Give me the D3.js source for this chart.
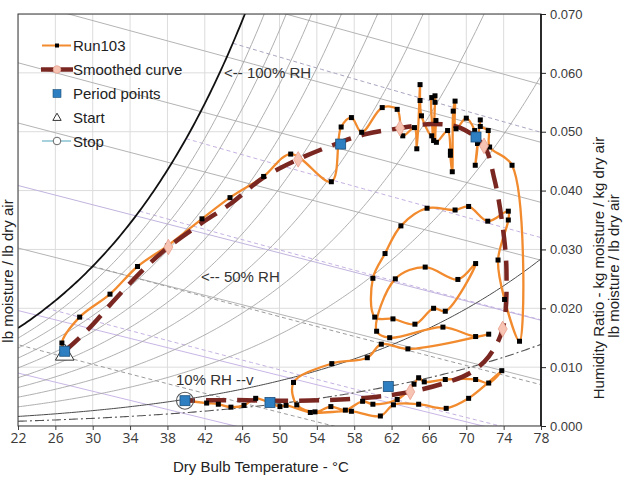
<!DOCTYPE html>
<html>
<head>
<meta charset="utf-8">
<script src="https://cdn.jsdelivr.net/npm/d3@7"></script>
<style>
  body { margin: 0; background: #fff; }
  svg { display: block; font-family: "Liberation Sans", Arial, sans-serif; }
</style>
</head>
<body>
<svg id="chart" width="624" height="477"></svg>
<script>
// Run103 readings: dry bulb (degC) and humidity ratio (kg/kg)
const runTemp = [27.0, 26.7, 28.6, 31.85, 34.8, 38.0, 41.7, 44.7, 48.3, 51.2,
  55.55, 56.6, 57.7, 58.8, 61.0, 62.6, 63.2, 64.45, 64.7, 65.05,
  65.05, 65.2, 66.3, 66.3, 66.65, 66.65, 66.5, 66.75, 66.8, 68.0,
  68.3, 68.3, 68.5, 68.6, 68.8, 68.9, 70.0, 70.9, 71.2, 70.96,
  71.5, 71.5, 72.35, 72.5, 74.9, 75.7, 74.1, 73.4, 74.5, 74.5,
  72.3, 70.25, 68.8, 65.8, 63.0, 61.3, 60.0, 60.2, 62.15, 64.5,
  66.5, 67.75, 71.0, 69.1, 65.6, 62.4, 60.4, 61.8, 67.5, 71.0,
  72.4, 63.75, 60.9, 59.4, 55.6, 51.5, 51.85, 53.8, 55.5, 57.05,
  58.9, 60.0, 62.6, 64.4, 64.9, 65.5, 67.75, 71.0, 72.4, 73.8,
  70.25, 67.85, 64.9, 62.2, 60.8, 57.7, 53.3, 50.7, 50.05, 47.45,
  46.2, 44.8, 43.45, 42.2, 39.9];
const runHum = [0.0127, 0.0141, 0.0185, 0.0224, 0.0271, 0.0306, 0.0352, 0.0388, 0.0424, 0.0462,
  0.0415, 0.0508, 0.0524, 0.0499, 0.0541, 0.0538, 0.0493, 0.0507, 0.0471, 0.0580,
  0.0553, 0.0527, 0.0493, 0.0558, 0.0561, 0.0550, 0.0485, 0.0519, 0.0482, 0.0502,
  0.0467, 0.0460, 0.0432, 0.0535, 0.0552, 0.0505, 0.0523, 0.0502, 0.0480, 0.0443,
  0.0520, 0.0509, 0.0502, 0.0474, 0.0443, 0.0144, 0.0215, 0.0282, 0.0350, 0.0365,
  0.0348, 0.0373, 0.0367, 0.0370, 0.0340, 0.0293, 0.0251, 0.0185, 0.0182, 0.0173,
  0.0200, 0.0195, 0.0276, 0.0249, 0.0270, 0.0250, 0.0161, 0.0150, 0.0168, 0.0152,
  0.0156, 0.0131, 0.0139, 0.0116, 0.0106, 0.0074, 0.0036, 0.0024, 0.0033, 0.0027,
  0.0042, 0.0037, 0.0045, 0.0071, 0.0082, 0.0075, 0.0079, 0.0079, 0.0073, 0.0094,
  0.0047, 0.0030, 0.0037, 0.0036, 0.0017, 0.0025, 0.0023, 0.0035, 0.0033, 0.0047,
  0.0035, 0.0032, 0.0037, 0.0039, 0.0043];

// smoothed curve
const smoothTemp = [27.0, 29.5, 32.5, 35.5, 38.1, 41.5, 44.8, 48.2, 52.0, 55.5,
  59.0, 62.9, 66.3, 69.3, 71.9, 73.0, 73.8, 74.3, 73.9, 72.4,
  70.4, 67.5, 64.0, 60.0, 55.0, 50.0, 45.0, 39.9];
const smoothHum = [0.0127, 0.0164, 0.0217, 0.0267, 0.0304, 0.0343, 0.0378, 0.0421, 0.0453, 0.0476,
  0.0495, 0.0506, 0.0513, 0.0507, 0.0476, 0.0420, 0.0350, 0.0265, 0.0165, 0.0118,
  0.0090, 0.0072, 0.0058, 0.0049, 0.0044, 0.0043, 0.0044, 0.0043];
const smoothMarkIdx = [4, 8, 11, 14, 18, 22];

const periodTemp = [27.0, 56.55, 71.04, 61.65, 48.98, 39.88];
const periodHum = [0.0127, 0.0479, 0.0491, 0.0067, 0.0040, 0.0043];
const startPoint = [27.0, 0.0121];
const stopPoint = [39.88, 0.0043];

const xTicks = [22, 26, 30, 34, 38, 42, 46, 50, 54, 58, 62, 66, 70, 74, 78];
const yTicks = [0, 0.01, 0.02, 0.03, 0.04, 0.05, 0.06, 0.07];

// psychrometric background
const rhLevels = [0.2, 0.3, 0.4, 0.5, 0.6, 0.7, 0.8, 0.9];
const wetBulbLevels = [20, 25, 30, 35, 40, 45];
const wetBulbColors = ['#9a9a9a', '#c4b0e2', '#9a9a9a', '#c4b0e2', '#c4b0e2', '#a9a2bf'];
const enthalpyLevels = [45, 72, 99, 126, 153, 179, 206, 232];
const enthalpyColors = ['#c9b6e6', '#c9b6e6', '#b4b4b4', '#c2b4de', '#b4b4b4', '#b4b4b4', '#b4b4b4', '#b4b4b4'];

class PsychroChart {
    constructor() {
        this.svg = d3.select('#chart');
        this.left = 18; this.right = 541; this.top = 14; this.bottom = 426;
        this.x = d3.scaleLinear().domain([22, 78]).range([this.left, this.right]);
        this.y = d3.scaleLinear().domain([0, 0.07]).range([this.bottom, this.top]);
        this.line = d3.line().x(d => this.x(d[0])).y(d => this.y(d[1]));
        this.smooth = d3.line().x(d => this.x(d[0])).y(d => this.y(d[1])).curve(d3.curveCatmullRom.alpha(0.5));

        this.drawGrid();
        this.drawPsychro();
        this.drawSeries();
        this.drawAxes();
        this.drawLegend();
        this.drawNotes();
    }

    pws(t) { return 0.61094 * Math.exp(17.625 * t / (t + 243.04)); }
    hum(t, rh) { const p = rh * this.pws(t); return 0.622 * p / (101.325 - p); }

    drawGrid() {
        const defs = this.svg.append('defs');
        defs.append('clipPath').attr('id', 'plot-clip').append('rect')
            .attr('x', this.left).attr('y', this.top)
            .attr('width', this.right - this.left).attr('height', this.bottom - this.top);

        this.plot = this.svg.append('g').attr('clip-path', 'url(#plot-clip)');
        this.plot.selectAll('.vgrid').data(xTicks).enter().append('line')
            .attr('x1', d => this.x(d)).attr('x2', d => this.x(d))
            .attr('y1', this.top).attr('y2', this.bottom)
            .attr('stroke', '#dcdcdc').attr('stroke-width', 1);
        this.plot.selectAll('.hgrid').data(yTicks).enter().append('line')
            .attr('x1', this.left).attr('x2', this.right)
            .attr('y1', d => this.y(d)).attr('y2', d => this.y(d))
            .attr('stroke', '#dcdcdc').attr('stroke-width', 1);
    }

    drawPsychro() {
        const temps = d3.range(22, 78.01, 0.25);
        const g = this.plot;

        enthalpyLevels.forEach((h, i) => {
            const pts = [22, 78].map(t => [t, (h - 1.006 * t) / (2501 + 1.86 * t)]);
            g.append('path').attr('d', this.line(pts)).attr('fill', 'none')
                .attr('stroke', enthalpyColors[i]).attr('stroke-width', 1);
        });

        wetBulbLevels.forEach((tw, i) => {
            const ws = this.hum(tw, 1);
            const pts = d3.range(tw, 78.01, 0.5)
                .map(t => [t, ((2501 - 2.326 * tw) * ws - 1.006 * (t - tw)) / (2501 + 1.86 * t - 4.186 * tw)])
                .filter(d => d[1] > -0.002);
            g.append('path').attr('d', this.line(pts)).attr('fill', 'none')
                .attr('stroke', wetBulbColors[i]).attr('stroke-width', 1)
                .attr('stroke-dasharray', '4,3');
        });

        rhLevels.forEach(rh => {
            g.append('path').attr('d', this.line(temps.map(t => [t, this.hum(t, rh)])))
                .attr('fill', 'none').attr('stroke', '#a6a6a6').attr('stroke-width', 0.9);
        });
        // 10% RH
        g.append('path').attr('d', this.line(temps.map(t => [t, this.hum(t, 0.1)])))
            .attr('fill', 'none').attr('stroke', '#4a4a4a').attr('stroke-width', 1);
        // 5% RH dash-dot
        g.append('path').attr('d', this.line(temps.map(t => [t, this.hum(t, 0.05)])))
            .attr('fill', 'none').attr('stroke', '#555').attr('stroke-width', 1.1)
            .attr('stroke-dasharray', '9,3,2,3');
        // saturation
        g.append('path').attr('d', this.line(temps.filter(t => t < 47.5).map(t => [t, this.hum(t, 1)])))
            .attr('fill', 'none').attr('stroke', '#111').attr('stroke-width', 1.8);
    }

    drawSeries() {
        const g = this.plot;
        const run = runTemp.map((t, i) => [t, runHum[i]]);
        const sm = smoothTemp.map((t, i) => [t, smoothHum[i]]);

        g.append('path').attr('d', this.smooth(run)).attr('fill', 'none')
            .attr('stroke', '#f28a2e').attr('stroke-width', 2.3);

        g.append('path').attr('d', this.smooth(sm)).attr('fill', 'none')
            .attr('stroke', '#7a2722').attr('stroke-width', 4.5)
            .attr('stroke-dasharray', '20,11');

        g.selectAll('.run-pt').data(run).enter().append('rect')
            .attr('x', d => this.x(d[0]) - 2.5).attr('y', d => this.y(d[1]) - 2.5)
            .attr('width', 5).attr('height', 5).attr('fill', '#000');

        g.selectAll('.sm-pt').data(smoothMarkIdx.map(i => sm[i])).enter().append('path')
            .attr('transform', d => `translate(${this.x(d[0])},${this.y(d[1])})`)
            .attr('d', d3.symbol(d3.symbolDiamond, 70))
            .attr('fill', '#f7c4b4').attr('stroke', '#e9a08e').attr('stroke-width', 0.8);

        g.append('path')
            .attr('transform', `translate(${this.x(startPoint[0])},${this.y(startPoint[1])})`)
            .attr('d', d3.symbol(d3.symbolTriangle, 150))
            .attr('fill', '#fff').attr('stroke', '#333').attr('stroke-width', 1);

        g.selectAll('.period').data(periodTemp.map((t, i) => [t, periodHum[i]])).enter().append('rect')
            .attr('x', d => this.x(d[0]) - 5).attr('y', d => this.y(d[1]) - 5)
            .attr('width', 10).attr('height', 10)
            .attr('fill', '#2d7fc1').attr('stroke', '#1d4f7a').attr('stroke-width', 0.8);

        g.append('circle').attr('cx', this.x(stopPoint[0])).attr('cy', this.y(stopPoint[1]))
            .attr('r', 8.5).attr('fill', 'none').attr('stroke', '#555').attr('stroke-width', 1.1);
    }

    drawAxes() {
        const xAxis = d3.axisBottom(this.x).tickValues(xTicks).tickSize(4).tickPadding(3);
        const yAxis = d3.axisRight(this.y).tickValues(yTicks).tickSize(5).tickPadding(4)
            .tickFormat(d3.format('.3f'));

        const gx = this.svg.append('g').attr('transform', `translate(0,${this.bottom})`).call(xAxis);
        gx.select('.domain').remove();
        gx.selectAll('line').attr('stroke', '#444');
        gx.selectAll('text').attr('font-size', 14).attr('fill', '#3a3a3a')
            .attr('font-family', '"Open Sans", sans-serif');

        const gy = this.svg.append('g').attr('transform', `translate(${this.right},0)`).call(yAxis);
        gy.select('.domain').remove();
        gy.selectAll('line').attr('stroke', '#222');
        gy.selectAll('text').attr('font-size', 13).attr('fill', '#3a3a3a');

        this.svg.append('rect').attr('x', this.left).attr('y', this.top)
            .attr('width', this.right - this.left).attr('height', this.bottom - this.top)
            .attr('fill', 'none').attr('stroke', '#333').attr('stroke-width', 1);
        this.svg.append('line').attr('x1', this.right).attr('x2', this.right)
            .attr('y1', this.top).attr('y2', this.bottom)
            .attr('stroke', '#111').attr('stroke-width', 1.6);

        this.svg.append('text').attr('x', 173).attr('y', 472)
            .attr('font-size', 15).attr('fill', '#222')
            .text('Dry Bulb Temperature - °C');

        this.svg.append('text').attr('transform', 'translate(604,268) rotate(-90)')
            .attr('text-anchor', 'middle').attr('font-size', 15).attr('fill', '#222')
            .text('Humidity Ratio - kg moisture / kg dry air');
        this.svg.append('text').attr('transform', 'translate(619,266) rotate(-90)')
            .attr('text-anchor', 'middle').attr('font-size', 15).attr('fill', '#222')
            .text('lb moisture / lb dry air');
        this.svg.append('text').attr('transform', 'translate(13,271) rotate(-90)')
            .attr('text-anchor', 'middle').attr('font-size', 15).attr('fill', '#222')
            .text('lb moisture / lb dry air');
    }

    drawLegend() {
        const g = this.svg.append('g');
        const rows = [45.5, 69.5, 93.5, 117.5, 141];
        const labels = ['Run103', 'Smoothed curve', 'Period points', 'Start', 'Stop'];
        const mx = 57;

        g.append('line').attr('x1', 42).attr('x2', 71).attr('y1', rows[0]).attr('y2', rows[0])
            .attr('stroke', '#f28a2e').attr('stroke-width', 2);
        g.append('rect').attr('x', mx - 2).attr('y', rows[0] - 2).attr('width', 4).attr('height', 4);

        g.append('line').attr('x1', 41).attr('x2', 73).attr('y1', rows[1]).attr('y2', rows[1])
            .attr('stroke', '#7a2722').attr('stroke-width', 4.5);
        g.append('circle').attr('cx', mx).attr('cy', rows[1]).attr('r', 3.8)
            .attr('fill', '#f7c4b4').attr('stroke', '#e9a08e').attr('stroke-width', 0.8);

        g.append('rect').attr('x', mx - 4).attr('y', rows[2] - 4).attr('width', 8).attr('height', 8)
            .attr('fill', '#2d7fc1').attr('stroke', '#1d4f7a').attr('stroke-width', 0.6);

        g.append('path').attr('transform', `translate(${mx},${rows[3] + 0.5})`)
            .attr('d', d3.symbol(d3.symbolTriangle, 30))
            .attr('fill', '#fff').attr('stroke', '#333').attr('stroke-width', 1);

        g.append('line').attr('x1', 42).attr('x2', 71).attr('y1', rows[4]).attr('y2', rows[4])
            .attr('stroke', '#93c6d6').attr('stroke-width', 1.6);
        g.append('circle').attr('cx', mx).attr('cy', rows[4]).attr('r', 3.8)
            .attr('fill', '#fff').attr('stroke', '#666').attr('stroke-width', 1);

        g.selectAll('.leg-text').data(labels).enter().append('text')
            .attr('x', 73).attr('y', (d, i) => rows[i] + 5.5)
            .attr('font-size', 15).attr('fill', '#222')
            .text(d => d);
    }

    drawNotes() {
        const notes = [
            { text: '<-- 100% RH', x: 224, y: 78 },
            { text: '<-- 50% RH', x: 201, y: 282 },
            { text: '10% RH --v', x: 176, y: 385 }
        ];
        this.svg.selectAll('.note').data(notes).enter().append('text')
            .attr('x', d => d.x).attr('y', d => d.y)
            .attr('font-size', 15).attr('fill', '#333')
            .text(d => d.text);
    }
}

new PsychroChart();
</script>
</body>
</html>
